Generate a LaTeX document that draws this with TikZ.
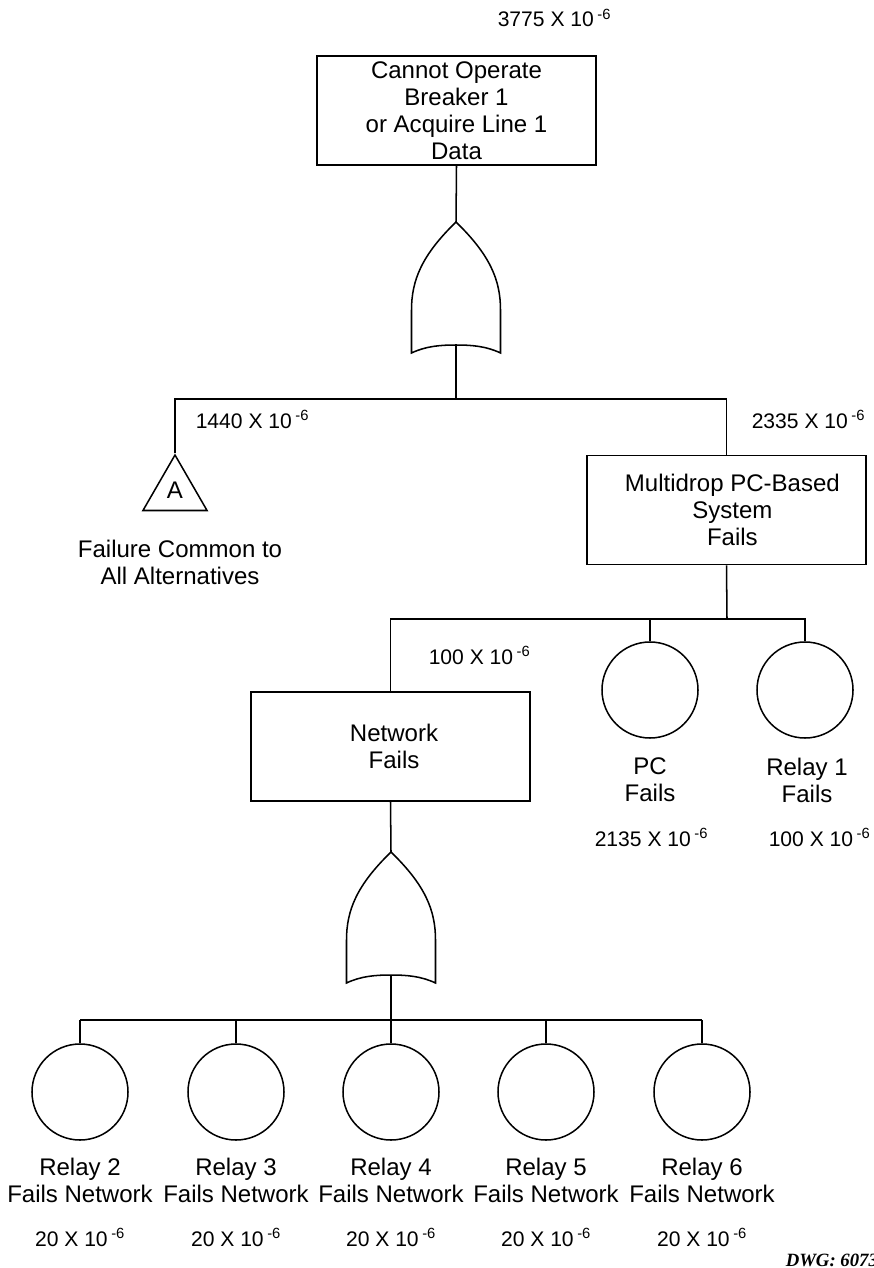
\documentclass[tikz,border=0pt]{standalone}
\usepackage{fontspec}
\setmainfont{Liberation Sans}
\newfontfamily\dwgfont{Liberation Serif}
\usetikzlibrary{shapes.geometric}

\newcommand{\prob}[1]{#1 X 10\,\textsuperscript{-6}}

\begin{document}
\begin{tikzpicture}[x=0.03cm,y=-0.03cm,line width=1.3pt,
  every node/.style={font=\fontsize{20.5}{23}\selectfont},
  event/.style={draw,rectangle,minimum width=8.37cm,minimum height=3.27cm,align=center,inner sep=0pt},
  basic/.style={draw,circle,minimum size=2.88cm,inner sep=0pt},
  caption/.style={align=center,inner sep=0pt},
  rate/.style={anchor=base west,inner sep=0pt,font=\fontsize{18}{20}\selectfont},
  orgate/.pic={
    \draw (0,0) .. controls (34,33) and (44.5,58) .. (44.5,88) -- (44.5,131)
      .. controls (30,124) and (15,123) .. (0,123)
      .. controls (-15,123) and (-30,124) .. (-44.5,131) -- (-44.5,88)
      .. controls (-44.5,58) and (-34,33) .. (0,0) -- cycle;
    \coordinate (-in) at (0,0);
    \coordinate (-out) at (0,123);
  }]
\useasboundingbox (0,0) rectangle (874,1268);

% top event
\node[rate] (ptop) at (497,27) {\prob{3775}};
\node[event] (top) at (456.5,110.5) {Cannot Operate\\Breaker 1\\or Acquire Line 1\\Data};
\pic (g1) at (456,222) {orgate};
\draw (top.south) -- (g1-in);
\coordinate (split1) at (456,399);
\draw (g1-out) -- (split1);

% common failure
\node[draw,regular polygon,regular polygon sides=3,minimum size=2.22cm,inner sep=0pt] (tri) at (175,492) {};
\node (tria) at (175,490) {A};
\node[rate] (pcommon) at (195,428) {\prob{1440}};
\node[caption] (common) at (180,562) {Failure Common to\\All Alternatives};

% multidrop system
\node[rate] (pmulti) at (751,428) {\prob{2335}};
\node[event] (multi) at (726.5,510) {\hspace{10pt}Multidrop PC-Based\\\hspace{10pt}System\\\hspace{10pt}Fails};
\draw (tri.corner 1) |- (split1) -| (multi.north);

\coordinate (split2) at (727,619);
\node[event] (net) at (390.5,746.5) {\hspace{6pt}Network\\\hspace{6pt}Fails};
\node[rate] (pnet) at (428,664) {\prob{100}};
\node[basic] (pc) at (650,690) {};
\node[basic] (relay1) at (805,690) {};
\node[caption] (pctxt) at (650,780) {PC\\Fails};
\node[caption] (relay1txt) at (807,780) {Relay 1\\Fails};
\node[rate] (ppc) at (594,846) {\prob{2135}};
\node[rate] (prelay1) at (768,846) {\prob{100}};
\draw (multi.south) -- (split2);
\draw (net.north) |- (relay1.north |- split2) -- (relay1.north);
\draw (pc.north) -- (pc.north |- split2);

% network gate
\pic (g2) at (391,852) {orgate};
\draw (net.south) -- (g2-in);
\coordinate (split3) at (391,1020);
\draw (g2-out) -- (split3);

\foreach \k/\x in {2/80,3/236,4/391,5/546,6/702}{
  \node[basic] (r\k) at (\x,1092) {};
  \node[caption] (r\k txt) at (\x,1180) {Relay \k\\Fails Network};
  \node[rate,anchor=base] (p\k) at (\x,1246) {\prob{20}};
  \draw (r\k.north) -- (r\k.north |- split3);
}
\draw (r2.north |- split3) -- (r6.north |- split3);

\node[anchor=base west,inner sep=0pt,font=\dwgfont\bfseries\itshape\fontsize{16}{18}\selectfont] (dwg) at (785,1266) {DWG: 6073};
\end{tikzpicture}
\end{document}
